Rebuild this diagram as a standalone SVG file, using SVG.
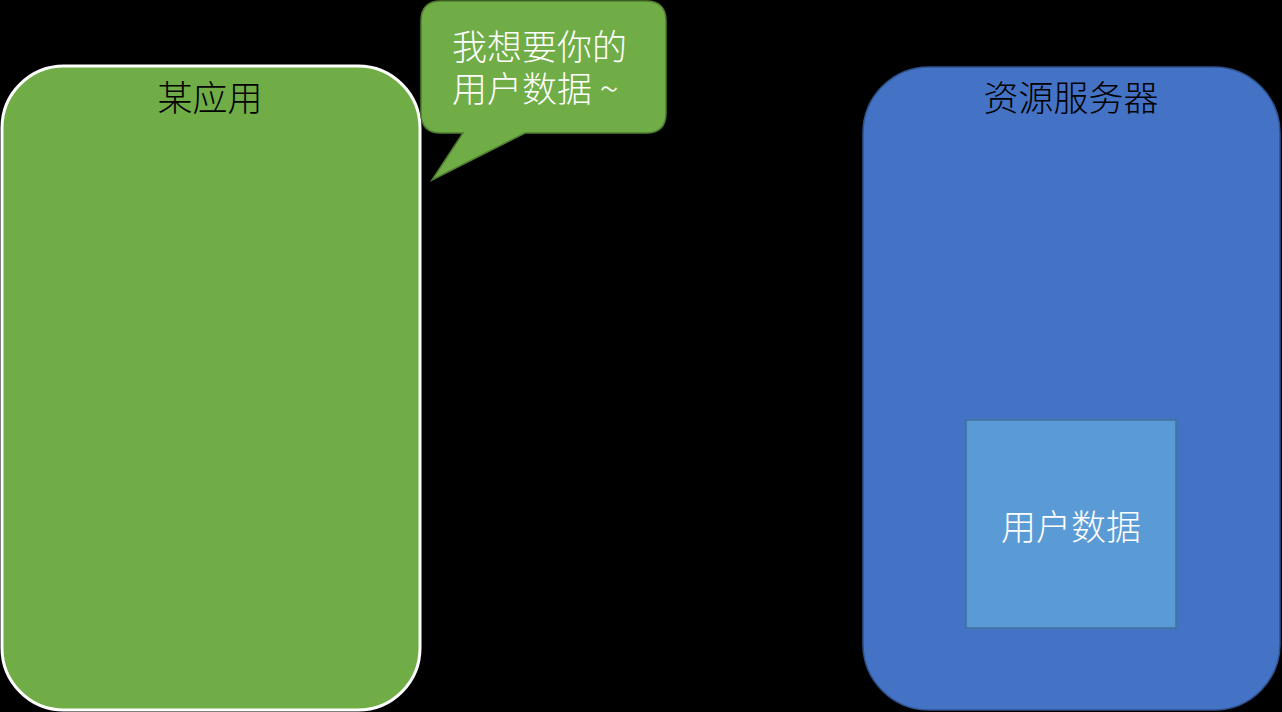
<svg xmlns="http://www.w3.org/2000/svg" width="1282" height="712" viewBox="0 0 1282 712">
<style>
text{font-family:"Noto Sans CJK SC","Noto Sans",sans-serif;font-size:35px;font-weight:300}
.dark{fill:#000}
.light{fill:#fff}
</style>
<rect x="0" y="0" width="1282" height="712" fill="#000"/>
<g id="app">
<rect x="2" y="66" width="418" height="644" rx="62" ry="62" fill="#70AD47" stroke="#fff" stroke-width="3"/>
<text x="210" y="111" text-anchor="middle" class="dark">某应用</text>
</g>
<g id="bubble">
<path d="M441,1 H646 Q666,1 666,21 V113 Q666,133 646,133 H525 L432,180 L463,133 H441 Q421,133 421,113 V21 Q421,1 441,1 Z" fill="#70AD47" stroke="#507E32" stroke-width="1.5"/>
<text x="452" y="60" class="light">我想要你的</text>
<text x="452" y="102" class="light">用户数据 ~</text>
</g>
<g id="server">
<rect x="863" y="67" width="417" height="643" rx="66" ry="66" fill="#4472C4" stroke="#2F528F" stroke-width="1.5"/>
<text x="1071" y="111" text-anchor="middle" class="dark">资源服务器</text>
</g>
<g id="userdata">
<rect x="966" y="420" width="210" height="208" fill="#5B9BD5" stroke="#41719C" stroke-width="1.5"/>
<text x="1071" y="540" text-anchor="middle" class="light">用户数据</text>
</g>
<g id="connectors"></g>
</svg>
